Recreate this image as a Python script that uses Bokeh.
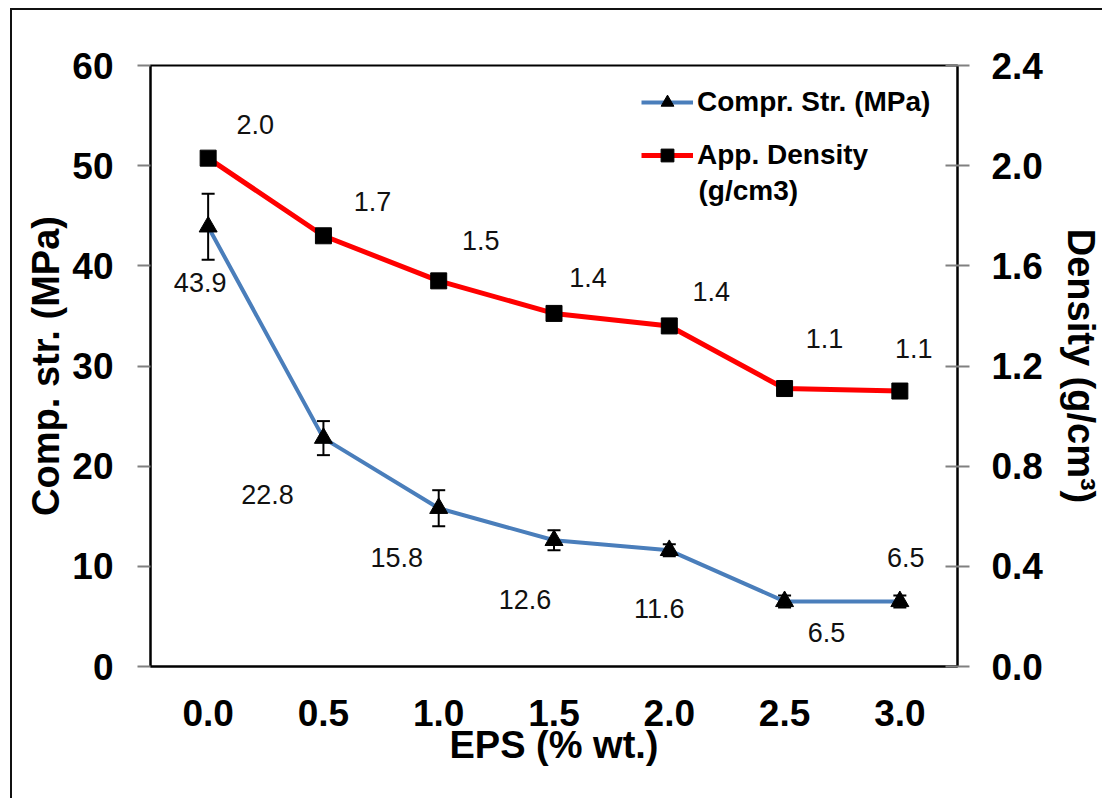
from bokeh.plotting import figure
from bokeh.models import (FactorRange, Range1d, LinearAxis, FixedTicker, ColumnDataSource,
                          Whisker, TeeHead, Legend, LegendItem, PrintfTickFormatter, Label)
from bokeh.core.properties import value
from bokeh.embed import file_html
from bokeh.resources import INLINE

# EPS content (% wt.)
eps_levels = ["0.0", "0.5", "1.0", "1.5", "2.0", "2.5", "3.0"]
# compressive strength (MPa) and its standard deviation
comp_strength = [43.9, 22.8, 15.8, 12.6, 11.6, 6.5, 6.5]
comp_error = [3.3, 1.7, 1.8, 1.0, 0.6, 0.6, 0.6]
# apparent density (g/cm3)
app_density = [2.03, 1.72, 1.54, 1.41, 1.36, 1.11, 1.10]

# value-label offsets in pixels
comp_dx = [-8, -56, -42, -29, -10, 42, 6]
comp_dy = [56, 56, 49, 59, 58, 31, -44]
dens_dx = [47, 49, 42, 34, 42, 40, 14]
dens_dy = [-34, -34, -40, -36, -34, -50, -43]

FONT = "Liberation Sans"

src = ColumnDataSource(dict(
    eps=eps_levels,
    comp=comp_strength,
    upper=[v + e for v, e in zip(comp_strength, comp_error)],
    lower=[v - e for v, e in zip(comp_strength, comp_error)],
    comp_txt=[f"{v:.1f}" for v in comp_strength],
    comp_dx=comp_dx, comp_dy=comp_dy,
    dens=app_density,
    dens_txt=[f"{v:.1f}" for v in app_density],
    dens_dx=dens_dx, dens_dy=dens_dy,
))

p = figure(width=1092, height=790,
           x_range=FactorRange(*eps_levels),
           y_range=Range1d(0, 60),
           output_backend="svg", toolbar_location=None,
           min_border_left=138, min_border_right=146,
           min_border_top=55, min_border_bottom=134)
p.extra_y_ranges = {"dens": Range1d(0, 2.4)}

# thin frame around the whole chart (its right/bottom edges fall off the page)
p.styles = {"margin-left": "10px", "margin-top": "8px",
            "border-left": "2px solid #111", "border-top": "2px solid #111"}

p.xgrid.visible = False
p.ygrid.visible = False
p.outline_line_color = "black"
p.outline_line_width = 2
p.background_fill_color = "white"
p.border_fill_color = "white"

# left axis: compressive strength
ly = p.left[0]
ly.ticker = FixedTicker(ticks=[0, 10, 20, 30, 40, 50, 60])
ly.axis_label = "Comp. str. (MPa)"
ly.major_tick_out = 13
ly.major_tick_in = 0
ly.minor_tick_out = 0
ly.minor_tick_in = 0
ly.major_tick_line_color = "#808080"
ly.major_tick_line_width = 2
ly.axis_line_color = "black"
ly.axis_line_width = 2
ly.major_label_standoff = 24
ly.axis_label_standoff = 2

# right axis: density
ry = LinearAxis(y_range_name="dens",
                ticker=FixedTicker(ticks=[0, 0.4, 0.8, 1.2, 1.6, 2.0, 2.4]),
                formatter=PrintfTickFormatter(format="%.1f"),
                axis_label="Density (g/cm³)")
ry.major_tick_out = 12
ry.major_tick_in = 12
ry.minor_tick_out = 0
ry.minor_tick_in = 0
ry.major_tick_line_color = "#808080"
ry.major_tick_line_width = 2
ry.axis_line_color = "black"
ry.axis_line_width = 2
ry.major_label_standoff = 22
ry.axis_label_standoff = 14
p.add_layout(ry, "right")

# bottom axis
bx = p.below[0]
bx.axis_label = "EPS (% wt.)"
bx.major_tick_out = 0
bx.major_tick_in = 0
bx.axis_line_color = "black"
bx.axis_line_width = 2
bx.major_label_standoff = 33
bx.axis_label_standoff = -5

for ax in (ly, ry, bx):
    ax.major_label_text_font = FONT
    ax.major_label_text_font_style = "bold"
    ax.major_label_text_font_size = "37px"
    ax.major_label_text_color = "black"
    ax.axis_label_text_font = FONT
    ax.axis_label_text_font_style = "bold"
    ax.axis_label_text_font_size = "38px"
    ax.axis_label_text_color = "black"

# error bars
p.add_layout(Whisker(source=src, base="eps", upper="upper", lower="lower",
                     line_color="black", line_width=2,
                     upper_head=TeeHead(size=13, line_color="black", line_width=2),
                     lower_head=TeeHead(size=13, line_color="black", line_width=2)))

comp_line = p.line("eps", "comp", source=src, line_color="#4a7ebb", line_width=4)
comp_pts = p.scatter("eps", "comp", source=src, marker="triangle", size=18,
                     fill_color="black", line_color="black")
dens_line = p.line("eps", "dens", source=src, y_range_name="dens",
                   line_color="#ff0000", line_width=5)
dens_pts = p.scatter("eps", "dens", source=src, y_range_name="dens", marker="square",
                     size=16, fill_color="black", line_color="black")

# value labels
p.text("eps", "comp", text="comp_txt", source=src, x_offset="comp_dx", y_offset="comp_dy",
       text_font=value(FONT), text_font_size="27px", text_color="#111111",
       text_align="center", text_baseline="middle")
p.text("eps", "dens", text="dens_txt", source=src, y_range_name="dens",
       x_offset="dens_dx", y_offset="dens_dy",
       text_font=value(FONT), text_font_size="27px", text_color="#111111",
       text_align="center", text_baseline="middle")

legend = Legend(items=[
    LegendItem(label="Compr. Str. (MPa)", renderers=[comp_line, comp_pts]),
    LegendItem(label="App. Density", renderers=[dens_line, dens_pts]),
], location="top_right", margin=21, padding=0, spacing=21,
    glyph_width=52, glyph_height=32, label_standoff=4, label_width=239,
    border_line_color=None, background_fill_alpha=0,
    label_text_font=FONT, label_text_font_style="bold", label_text_font_size="28px",
    label_text_color="black")
p.add_layout(legend)
# unit line of the density legend entry
p.add_layout(Label(x=548, y=476, x_units="screen", y_units="screen", text="(g/cm3)",
                   text_font=FONT, text_font_style="bold", text_font_size="28px",
                   text_color="black", text_baseline="middle", text_align="left"))

open("out.html", "w").write(file_html(p, INLINE))
